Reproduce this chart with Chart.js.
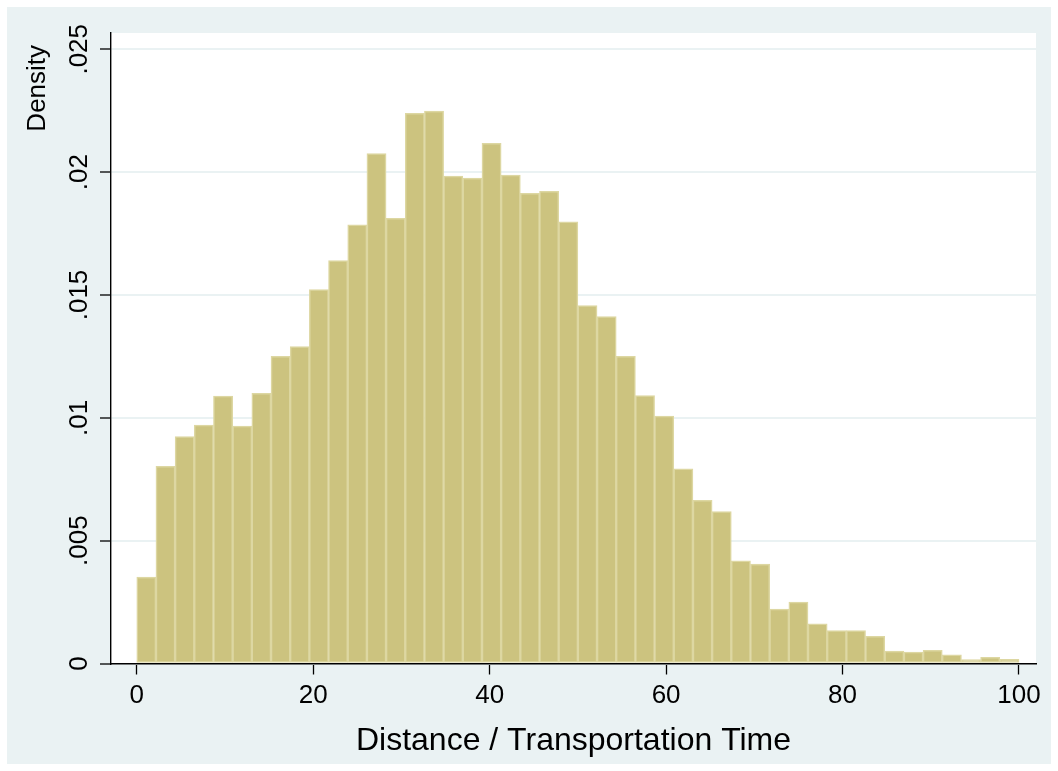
<!DOCTYPE html>
<html>
<head>
<meta charset="utf-8">
<script src="https://cdn.jsdelivr.net/npm/chart.js@4/dist/chart.umd.min.js"></script>
<style>
  html, body { margin: 0; padding: 0; background: #ffffff; overflow: hidden; }
  #wrap { width: 1058px; height: 771px; }
</style>
</head>
<body>
<div id="wrap"><canvas id="c" width="1058" height="771"></canvas></div>
<script>
// ---- data ----
const binStart = 0;
const binEnd = 100;
const binCount = 46;
const binHeights = [
  0.00352, 0.00803, 0.00924, 0.00970, 0.01088, 0.00966, 0.01100, 0.01250, 0.01290, 0.01522,
  0.01640, 0.01786, 0.02076, 0.01812, 0.02239, 0.02249, 0.01984, 0.01976, 0.02117, 0.01988,
  0.01914, 0.01922, 0.01798, 0.01457, 0.01412, 0.01250, 0.01090, 0.01007, 0.00792, 0.00664,
  0.00618, 0.00418, 0.00405, 0.00221, 0.00250, 0.00161, 0.00134, 0.00134, 0.00111, 0.00051,
  0.00046, 0.00054, 0.00035, 0.00016, 0.00025, 0.00017
];
const xTickValues = [0, 20, 40, 60, 80, 100];
const xTickLabels = ['0', '20', '40', '60', '80', '100'];
const yTickValues = [0, 0.005, 0.01, 0.015, 0.02, 0.025];
const yTickLabels = ['0', '.005', '.01', '.015', '.02', '.025'];
const xTitle = 'Distance / Transportation Time';
const yTitle = 'Density';

// bin centres from the histogram's bin definition
const binWidth = (binEnd - binStart) / binCount;
const points = binHeights.map((h, i) => ({ x: binStart + (i + 0.5) * binWidth, y: h }));

const FONT = '"Liberation Sans", Arial, Helvetica, sans-serif';
Chart.defaults.color = '#000000';
Chart.defaults.font.family = FONT;

const bgPlugin = {
  id: 'bgPlugin',
  beforeDraw(chart) {
    const { ctx, chartArea: a } = chart;
    ctx.save();
    ctx.fillStyle = '#ffffff';
    ctx.fillRect(0, 0, chart.width, chart.height);
    ctx.fillStyle = '#EAF2F3';
    ctx.fillRect(7, 7, chart.width - 14, chart.height - 14);
    ctx.fillStyle = '#ffffff';
    ctx.fillRect(a.left, a.top, a.right - a.left, a.bottom - a.top);
    ctx.restore();
  },
  afterDraw(chart) {
    const { ctx } = chart;
    ctx.save();
    ctx.translate(38.3, 88.3);
    ctx.rotate(-Math.PI / 2);
    ctx.font = '26px ' + FONT;
    ctx.textAlign = 'center';
    ctx.textBaseline = 'middle';
    ctx.fillStyle = '#000000';
    ctx.fillText(yTitle, 0, 0);
    ctx.restore();
  }
};

new Chart(document.getElementById('c'), {
  type: 'bar',
  data: {
    datasets: [{
      data: points,
      backgroundColor: '#CCC37F',
      borderColor: '#DDD7A2',
      borderWidth: 1.5,
      borderSkipped: false,
      barPercentage: 1,
      categoryPercentage: 1
    }]
  },
  options: {
    responsive: false,
    animation: false,
    layout: { padding: { top: 33, right: 22, left: 0, bottom: 0 } },
    plugins: { legend: { display: false }, tooltip: { enabled: false } },
    scales: {
      x: {
        type: 'linear',
        offset: false,
        min: -2.92,
        max: 101.93,
        afterFit(s) { s.height = 107.5; },
        afterBuildTicks(s) { s.ticks = xTickValues.map(v => ({ value: v })); },
        ticks: {
          callback: (v, i) => xTickLabels[i],
          font: { size: 26 },
          padding: 6,
          maxRotation: 0,
          minRotation: 0,
          autoSkip: false
        },
        grid: {
          offset: false,
          drawOnChartArea: false,
          drawTicks: true,
          tickLength: 11,
          tickColor: '#000000',
          tickWidth: 1.3
        },
        border: { display: true, color: '#000000', width: 1.4 },
        title: {
          display: true,
          text: xTitle,
          font: { size: 32 },
          padding: { top: 0, bottom: 10.2 }
        }
      },
      y: {
        type: 'linear',
        min: 0,
        max: 0.025663,
        afterFit(s) { s.width = 111; },
        afterBuildTicks(s) { s.ticks = yTickValues.map(v => ({ value: v })); },
        ticks: {
          callback: (v, i) => yTickLabels[i],
          font: { size: 26 },
          minRotation: 90,
          maxRotation: 90,
          crossAlign: 'center',
          padding: -5,
          autoSkip: false
        },
        grid: {
          color: '#EAF2F3',
          lineWidth: 2,
          drawTicks: true,
          tickLength: 11,
          tickColor: '#000000',
          tickWidth: 1.3
        },
        border: { display: true, color: '#000000', width: 1.4 }
      }
    }
  },
  plugins: [bgPlugin]
});
</script>
</body>
</html>
